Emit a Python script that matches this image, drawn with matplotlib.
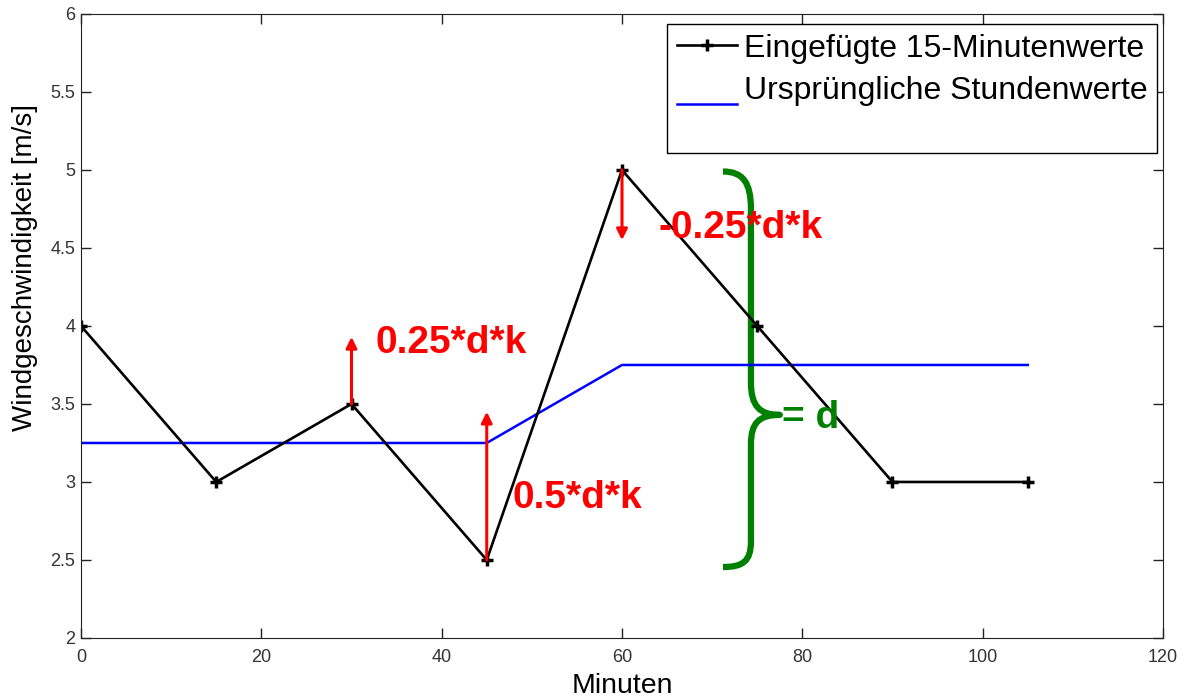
import matplotlib
matplotlib.use("Agg")
import numpy as np
import matplotlib.pyplot as plt
from matplotlib.path import Path
from matplotlib.patches import PathPatch
from matplotlib.lines import Line2D
from matplotlib.legend_handler import HandlerLine2D

plt.rcParams['font.family'] = ['Liberation Sans', 'DejaVu Sans']

# Daten
minuten = [0, 15, 30, 45, 60, 75, 90, 105]
werte_15min = [4.0, 3.0, 3.5, 2.5, 5.0, 4.0, 3.0, 3.0]
stunden_x = [0, 45, 60, 105]
stunden_y = [3.25, 3.25, 3.75, 3.75]

# Pfeile: (x, start, ende)
pfeile = [(30, 3.5, 3.93), (45, 2.5, 3.45), (60, 5.0, 4.55)]
texte = [(32.7, 3.89, "0.25*d*k"), (47.9, 2.90, "0.5*d*k"), (64.1, 4.63, "-0.25*d*k")]


class TieferHandler(HandlerLine2D):
    # Legendenlinie etwas tiefer setzen (wie im Original)
    def create_artists(self, legend, orig_handle, xdescent, ydescent, width, height, fontsize, trans):
        arts = super().create_artists(legend, orig_handle, xdescent, ydescent, width, height, fontsize, trans)
        for a in arts:
            a.set_ydata(np.asarray(a.get_ydata()) - 11.5)
        return arts


fig = plt.figure(figsize=(11.86, 6.98), dpi=100)
ax = fig.add_axes([0.0683, 0.086, 0.9123, 0.894])

ax.plot(stunden_x, stunden_y, color='#0000ff', lw=1.8, label='Ursprüngliche Stundenwerte')
ax.plot(minuten, werte_15min, color='black', lw=1.9, marker='+', ms=8, mew=2.5,
        label='Eingefügte 15-Minutenwerte')

for x, y0, y1 in pfeile:
    ax.annotate('', xy=(x, y1), xytext=(x, y0),
                arrowprops=dict(arrowstyle='-|>', color='red', lw=2.2,
                                mutation_scale=16, shrinkA=0, shrinkB=0))
for x, y, s in texte:
    ax.text(x, y, s, color='red', fontsize=28, fontweight='bold', va='center', ha='left')

# geschweifte Klammer
xl, xv, xt = 71.2, 74.3, 77.5
verts = [(xl, 4.99), (73.4, 4.99), (xv, 4.92), (xv, 4.75),
         (xv, 3.64),
         (xv, 3.49), (75.2, 3.43), (xt, 3.43),
         (75.2, 3.43), (xv, 3.38), (xv, 3.24),
         (xv, 2.62),
         (xv, 2.49), (73.4, 2.455), (xl, 2.455)]
codes = [Path.MOVETO, Path.CURVE4, Path.CURVE4, Path.CURVE4,
         Path.LINETO,
         Path.CURVE4, Path.CURVE4, Path.CURVE4,
         Path.CURVE4, Path.CURVE4, Path.CURVE4,
         Path.LINETO,
         Path.CURVE4, Path.CURVE4, Path.CURVE4]
ax.add_patch(PathPatch(Path(verts, codes), fill=False, edgecolor='#008000', lw=4.5,
                       capstyle='butt', joinstyle='round'))
ax.text(77.7, 3.41, "= d", color='#008000', fontsize=28, fontweight='bold', va='center', ha='left')

ax.set_xlim(0, 120)
ax.set_ylim(2, 6)
ax.set_xticks([0, 20, 40, 60, 80, 100, 120])
ax.set_yticks([2, 2.5, 3, 3.5, 4, 4.5, 5, 5.5, 6])
ax.set_yticklabels(['2', '2.5', '3', '3.5', '4', '4.5', '5', '5.5', '6'])
ax.tick_params(direction='in', top=True, right=True, length=7, width=1,
               labelsize=13, labelcolor='#333333', color='#222222')
ax.tick_params(axis='x', pad=8)
ax.tick_params(axis='y', pad=4)
for sp in ax.spines.values():
    sp.set_color('#222222')
ax.set_xlabel('Minuten', fontsize=20.5, labelpad=5)
ax.set_ylabel('Windgeschwindigkeit [m/s]', fontsize=20, labelpad=9, y=0.593)

h_schwarz = Line2D([], [], color='black', lw=1.9, marker='+', ms=8, mew=2.5)
h_blau = Line2D([], [], color='#0000ff', lw=1.8)
h_leer = Line2D([], [], color='none')
leg = ax.legend([h_schwarz, h_blau, h_leer],
                ['Eingefügte 15-Minutenwerte', 'Ursprüngliche Stundenwerte', ''],
                handler_map={h_blau: TieferHandler()},
                loc='upper right', bbox_to_anchor=(0.9945, 0.984), fontsize=23,
                frameon=True, fancybox=False, edgecolor='black', framealpha=1,
                handlelength=1.9, handletextpad=0.2, labelspacing=0.4,
                borderpad=0.3, borderaxespad=0)
leg.get_texts()[2].set_fontsize(5)
leg.get_frame().set_linewidth(1.0)

fig.savefig('out.png', dpi=100)
